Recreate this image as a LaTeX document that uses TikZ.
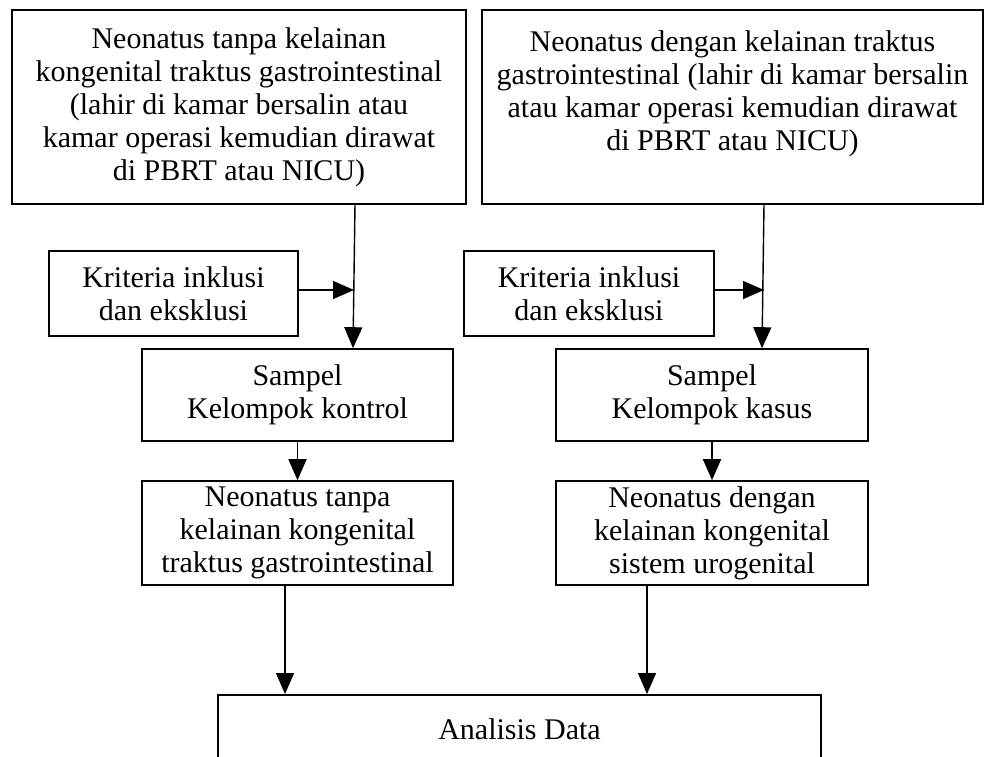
\documentclass[tikz,border=0pt]{standalone}
\usepackage{fontspec}
\setmainfont{Liberation Serif}
\usetikzlibrary{arrows.meta}

\tikzset{
    box/.style={draw, line width=1.6pt, align=center, inner sep=0pt},
    arr/.style={-{Triangle[length=21pt,width=18pt]}, line width=1.4pt}
}

\begin{document}
\begin{tikzpicture}[x=1pt, y=-1pt, font=\fontsize{30}{33}\selectfont]
    \useasboundingbox (0,0) rectangle (991,756);

    % Top boxes
    \node[box, minimum width=454pt, minimum height=194pt] (topL) at (239,107)
        {Neonatus tanpa kelainan\\kongenital traktus gastrointestinal\\(lahir di kamar bersalin atau\\kamar operasi kemudian dirawat\\di PBRT atau NICU)};
    \node[box, minimum width=501pt, minimum height=194pt] (topR) at (732.5,107)
        {Neonatus dengan kelainan traktus\\gastrointestinal (lahir di kamar bersalin\\atau kamar operasi kemudian dirawat\\di PBRT atau NICU)\\ \mbox{}};

    % Criteria
    \node[box, minimum width=249pt, minimum height=85pt] (kritL) at (173.5,293.5)
        {Kriteria inklusi\\dan eksklusi};
    \node[box, minimum width=250pt, minimum height=85pt] (kritR) at (589,293.5)
        {Kriteria inklusi\\dan eksklusi};

    % Samples
    \node[box, minimum width=311pt, minimum height=92pt] (sampL) at (297.5,395)
        {Sampel\\Kelompok kontrol};
    \node[box, minimum width=312pt, minimum height=92pt] (sampR) at (712,395)
        {Sampel\\Kelompok kasus};

    % Groups
    \node[box, minimum width=311pt, minimum height=104pt] (neoL) at (297.5,533)
        {Neonatus tanpa\\kelainan kongenital\\traktus gastrointestinal};
    \node[box, minimum width=312pt, minimum height=104pt] (neoR) at (712,533)
        {Neonatus dengan\\kelainan kongenital\\sistem urogenital};

    % Analysis
    \node[box, minimum width=603pt, minimum height=68pt, anchor=north] (anal) at (519.5,694)
        {Analisis Data};

    % Arrows, left side
    \coordinate (jL) at (354,290);
    \draw[arr] ([xshift=116pt]topL.south) -- ([xshift=55.5pt]sampL.north);
    \draw[arr] (kritL.east |- jL) -- (jL);
    \draw[arr] (sampL) -- (neoL);
    \draw[arr] ([xshift=-12.5pt]neoL.south) -- ([xshift=-234.5pt]anal.north);

    % Arrows, right side
    \coordinate (jR) at (764,290);
    \draw[arr] ([xshift=31.5pt]topR.south) -- ([xshift=50pt]sampR.north);
    \draw[arr] (kritR.east |- jR) -- (jR);
    \draw[arr] (sampR) -- (neoR);
    \draw[arr] ([xshift=-65pt]neoR.south) -- ([xshift=127.5pt]anal.north);
\end{tikzpicture}
\end{document}
